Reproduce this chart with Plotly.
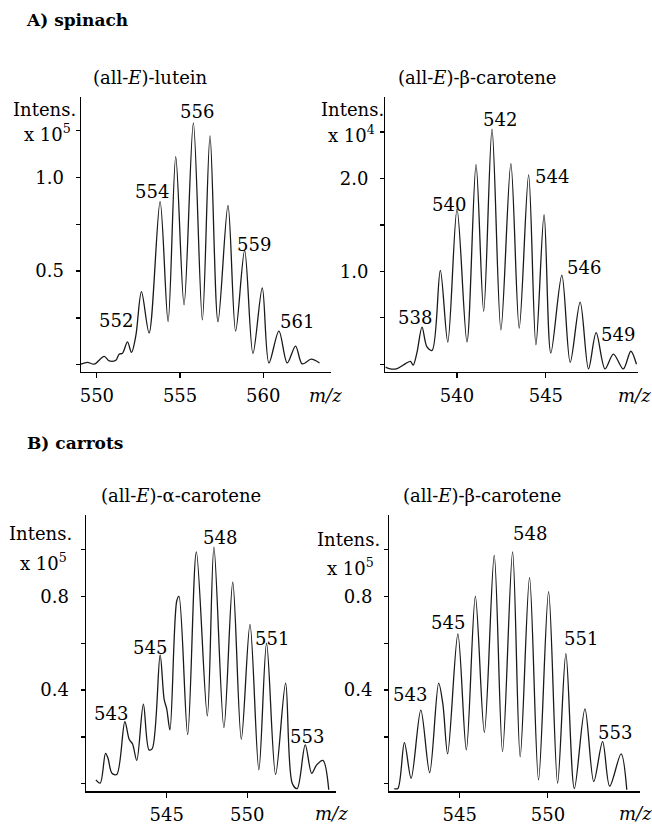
import plotly.graph_objects as go

# ---------------- data ----------------
lutein_mz = [549.04, 549.44, 549.84, 550.44, 550.74, 551.14, 551.34, 551.54, 551.84, 552.08,
             552.34, 552.68, 553.14, 553.8, 554.28, 554.74, 555.24, 555.8, 556.34, 556.8,
             557.28, 557.88, 558.34, 558.88, 559.38, 559.94, 560.34, 560.94, 561.44, 561.94,
             562.34, 562.88, 563.38]
lutein_int = [0.004, 0.013, 0.004, 0.045, 0.021, 0.025, 0.057, 0.062, 0.122, 0.066,
              0.154, 0.39, 0.17, 0.87, 0.23, 1.11, 0.32, 1.29, 0.24, 1.22,
              0.23, 0.85, 0.18, 0.61, 0.06, 0.41, 0.01, 0.18, 0.01, 0.10,
              0.005, 0.03, 0.01]

bcar_sp_mz = [535.97, 536.25, 536.63, 537.1, 537.38, 537.53, 537.75, 538.03, 538.31, 538.6,
              539.06, 539.48, 540.0, 540.56, 541.07, 541.5, 541.97, 542.47, 543.03, 543.5,
              544.03, 544.44, 544.9, 545.28, 545.9, 546.37, 546.93, 547.4, 547.83, 548.33,
              548.8, 549.36, 549.78, 550.1]
bcar_sp_int = [-0.03, -0.05, -0.046, 0.007, 0.032, -0.01, 0.13, 0.40, 0.186, 0.15,
               1.01, 0.24, 1.67, 0.24, 2.15, 0.57, 2.53, 0.37, 2.16, 0.39,
               2.04, 0.21, 1.61, 0.12, 0.96, 0.02, 0.67, -0.05, 0.34, -0.05,
               0.11, -0.05, 0.14, 0.0]

acar_mz = [540.6, 540.87, 541.2, 541.35, 541.6, 541.9, 542.4, 542.67, 542.88, 543.14,
           543.55, 543.9, 544.1, 544.59, 544.84, 545.0, 545.2, 545.62, 545.76, 546.3,
           546.84, 547.52, 547.93, 548.55, 549.1, 549.63, 550.17, 550.72, 551.2, 551.76,
           552.38, 552.79, 553.1, 553.6, 554.0, 554.3, 554.7, 555.06]
acar_int = [0.017, 0.003, 0.13, 0.11, 0.045, 0.04, 0.265, 0.19, 0.17, 0.10,
            0.34, 0.145, 0.15, 0.55, 0.36, 0.32, 0.23, 0.78, 0.80, 0.21,
            0.99, 0.29, 1.01, 0.24, 0.86, 0.19, 0.68, 0.06, 0.60, 0.04,
            0.43, 0.003, -0.02, 0.166, 0.045, 0.08, 0.10, -0.025]

bcar_ca_mz = [541.3, 541.5, 541.87, 542.25, 542.8, 543.3, 543.81, 544.05, 544.32, 544.9,
              545.38, 545.89, 546.4, 546.96, 547.43, 548.0, 548.43, 548.96, 549.47, 550.04,
              550.55, 551.02, 551.5, 552.1, 552.6, 553.1, 553.5, 554.15, 554.47]
bcar_ca_int = [-0.02, -0.02, 0.176, 0.024, 0.315, 0.048, 0.43, 0.34, 0.128, 0.64,
               0.145, 0.80, 0.22, 0.975, 0.138, 0.99, 0.116, 0.88, 0.017, 0.82,
               0.003, 0.556, -0.02, 0.32, 0.01, 0.18, -0.01, 0.128, -0.025]

# peak labels: (text, m/z, intensity)
lutein_labels = [("552", 551.14, 0.234), ("554", 553.34, 0.926), ("556", 556.04, 1.35),
                 ("559", 559.44, 0.64), ("561", 562.04, 0.229)]
bcar_sp_labels = [("538", 537.66, 0.50), ("540", 539.53, 1.72), ("542", 542.43, 2.64),
                  ("544", 545.34, 2.02), ("546", 547.12, 1.04), ("549", 549.08, 0.32)]
acar_labels = [("543", 541.53, 0.30), ("545", 543.97, 0.58), ("548", 548.31, 1.05),
               ("551", 551.55, 0.62), ("553", 553.72, 0.20)]
bcar_ca_labels = [("543", 542.21, 0.38), ("545", 544.34, 0.69), ("548", 548.96, 1.07),
                  ("551", 551.89, 0.62), ("553", 553.81, 0.22)]

# axis ticks
lutein_xticks = [550, 555, 560]
lutein_yticks = [0, 0.25, 0.5, 0.75, 1.0, 1.25]
lutein_yticktext = ["", "", "0.5", "", "1.0", ""]
bcar_sp_xticks = [540, 545]
bcar_sp_yticks = [0, 0.5, 1.0, 1.5, 2.0, 2.5]
bcar_sp_yticktext = ["", "", "1.0", "", "2.0", ""]
carrot_yticks = [0, 0.2, 0.4, 0.6, 0.8, 1.0]
carrot_yticktext = ["", "", "0.4", "", "0.8", ""]
acar_xticks = [545, 550]
bcar_ca_xticks = [545, 550]

# ---------------- figure ----------------
W, H = 652, 825
FONT = "DejaVu Serif"
FS = 18

def px(x):
    return x / W

def py(y):
    return 1 - y / H

panels = [
    dict(mz=lutein_mz, it=lutein_int, labels=lutein_labels,
         xdom=[px(80), px(331)], ydom=[py(372.7), py(97)],
         xr=[549.04, 564.1], yr=[-0.037, 1.429],
         xt=lutein_xticks, yt=lutein_yticks, ytt=lutein_yticktext,
         title="(all-<i>E</i>)-lutein", tx=150, ty=78,
         intens=(77, 110), mult=("x 10<sup>5</sup>", 72, 133), mz_lab=(325, 396)),
    dict(mz=bcar_sp_mz, it=bcar_sp_int, labels=bcar_sp_labels,
         xdom=[px(385), px(637.7)], ydom=[py(372.7), py(97)],
         xr=[535.97, 550.17], yr=[-0.081, 2.88],
         xt=bcar_sp_xticks, yt=bcar_sp_yticks, ytt=bcar_sp_yticktext,
         title="(all-<i>E</i>)-β-carotene", tx=477, ty=78,
         intens=(386, 110), mult=("x 10<sup>4</sup>", 377, 134), mz_lab=(634, 396)),
    dict(mz=acar_mz, it=acar_int, labels=acar_labels,
         xdom=[px(85), px(336)], ydom=[py(793.3), py(516.7)],
         xr=[539.98, 555.54], yr=[-0.032, 1.145],
         xt=acar_xticks, yt=carrot_yticks, ytt=carrot_yticktext,
         title="(all-<i>E</i>)-α-carotene", tx=180, ty=497,
         intens=(73, 535), mult=("x 10<sup>5</sup>", 68, 563), mz_lab=(331, 815)),
    dict(mz=bcar_ca_mz, it=bcar_ca_int, labels=bcar_ca_labels,
         xdom=[px(389), px(640)], ydom=[py(793.3), py(516.7)],
         xr=[541.02, 555.22], yr=[-0.032, 1.145],
         xt=bcar_ca_xticks, yt=carrot_yticks, ytt=carrot_yticktext,
         title="(all-<i>E</i>)-β-carotene", tx=482, ty=497,
         intens=(382, 541), mult=("x 10<sup>5</sup>", 376, 568), mz_lab=(635, 815)),
]

fig = go.Figure()
annotations = []
tfont = dict(family=FONT, size=FS, color="black")

for i, p in enumerate(panels, start=1):
    xa = "x" if i == 1 else f"x{i}"
    ya = "y" if i == 1 else f"y{i}"
    fig.add_trace(go.Scatter(
        x=p["mz"], y=p["it"], mode="lines", xaxis=xa, yaxis=ya,
        line=dict(color="#1a1a1a", width=1.3, shape="spline", smoothing=0.9),
        showlegend=False, hoverinfo="skip"))
    axis_common = dict(showline=True, linecolor="black", linewidth=1.3,
                       showgrid=False, zeroline=False, ticks="outside",
                       tickcolor="black", tickwidth=1.2,
                       tickfont=tfont, fixedrange=True)
    fig.update_layout(**{
        ("xaxis" if i == 1 else f"xaxis{i}"): dict(
            axis_common, domain=p["xdom"], range=p["xr"], anchor=ya,
            tickmode="array", tickvals=p["xt"], ticklen=5, ticklabelstandoff=2),
        ("yaxis" if i == 1 else f"yaxis{i}"): dict(
            axis_common, domain=p["ydom"], range=p["yr"], anchor=xa,
            tickmode="array", tickvals=p["yt"], ticktext=p["ytt"], ticklen=4,
            ticklabelstandoff=8),
    })
    for txt, xv, yv in p["labels"]:
        annotations.append(dict(text=txt, x=xv, y=yv, xref=xa, yref=ya,
                                showarrow=False, font=tfont,
                                xanchor="center", yanchor="middle"))
    annotations.append(dict(text=p["title"], x=px(p["tx"]), y=py(p["ty"]),
                            xref="paper", yref="paper", showarrow=False,
                            font=tfont, xanchor="center", yanchor="middle"))
    annotations.append(dict(text="Intens.", x=px(p["intens"][0]), y=py(p["intens"][1]),
                            xref="paper", yref="paper", showarrow=False,
                            font=tfont, xanchor="right", yanchor="middle"))
    mt, mx, my = p["mult"]
    annotations.append(dict(text=mt, x=px(mx), y=py(my),
                            xref="paper", yref="paper", showarrow=False,
                            font=tfont, xanchor="right", yanchor="middle"))
    annotations.append(dict(text="<i>m/z</i>", x=px(p["mz_lab"][0]), y=py(p["mz_lab"][1]),
                            xref="paper", yref="paper", showarrow=False,
                            font=tfont, xanchor="center", yanchor="middle"))

bold = dict(family=FONT, size=17, color="black")
annotations.append(dict(text="<b>A) spinach</b>", x=px(23), y=py(20), xref="paper",
                        yref="paper", showarrow=False, font=bold,
                        xanchor="left", yanchor="middle"))
annotations.append(dict(text="<b>B) carrots</b>", x=px(24), y=py(444), xref="paper",
                        yref="paper", showarrow=False, font=bold,
                        xanchor="left", yanchor="middle"))

fig.update_layout(width=W, height=H, margin=dict(l=0, r=0, t=0, b=0),
                  paper_bgcolor="white", plot_bgcolor="white",
                  font=tfont, annotations=annotations, showlegend=False)

fig.write_html("out.html", config={"displayModeBar": False, "staticPlot": True},
               post_script="document.body.style.margin='0';document.body.style.overflow='hidden';")
